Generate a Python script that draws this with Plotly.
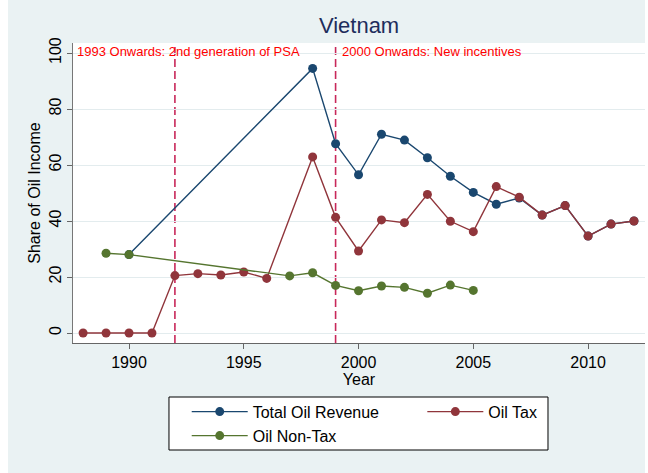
import plotly.graph_objects as go

# Oil revenue shares for Vietnam (percent of oil income)
years_total = [1990, 1998, 1999, 2000, 2001, 2002, 2003, 2004, 2005, 2006, 2007,
               2008, 2009, 2010, 2011, 2012]
total_oil_revenue = [28.0, 94.5, 67.6, 56.5, 71.0, 68.9, 62.6, 56.0, 50.2, 46.0, 48.2,
                     42.1, 45.5, 34.6, 38.9, 40.0]

years_tax = [1988, 1989, 1990, 1991, 1992, 1993, 1994, 1995, 1996, 1998, 1999, 2000,
             2001, 2002, 2003, 2004, 2005, 2006, 2007, 2008, 2009, 2010, 2011, 2012]
oil_tax = [0.0, 0.0, 0.0, 0.0, 20.5, 21.2, 20.7, 21.8, 19.5, 62.9, 41.3, 29.3,
           40.4, 39.4, 49.5, 39.9, 36.2, 52.3, 48.5, 42.1, 45.5, 34.6, 38.9, 40.0]

years_nontax = [1989, 1990, 1997, 1998, 1999, 2000, 2001, 2002, 2003, 2004, 2005]
oil_nontax = [28.5, 28.0, 20.4, 21.5, 17.0, 15.1, 16.8, 16.3, 14.2, 17.1, 15.2]

policy_years = [1992, 1999]
policy_labels = ["1993 Onwards: 2nd generation of PSA", "2000 Onwards: New incentives"]

x_ticks = [1990, 1995, 2000, 2005, 2010]
y_ticks = [0, 20, 40, 60, 80, 100]

FONT = "Liberation Sans, Arial, Helvetica, sans-serif"
BG = "#EAF2F3"
NAVY = "#1A476F"
MAROON = "#90353B"
GREEN = "#55752F"

fig = go.Figure()

series = [
    ("Total Oil Revenue", years_total, total_oil_revenue, NAVY, "legend"),
    ("Oil Tax", years_tax, oil_tax, MAROON, "legend2"),
    ("Oil Non-Tax", years_nontax, oil_nontax, GREEN, "legend3"),
]
for name, xs, ys, color, leg in series:
    fig.add_trace(go.Scatter(
        x=xs, y=ys, name=name, mode="lines+markers",
        line=dict(color=color, width=1.4),
        marker=dict(color=color, size=9, symbol="circle"),
        legend=leg,
    ))

# Policy change markers
for yr in policy_years:
    fig.add_shape(type="line", xref="x", yref="paper", x0=yr, x1=yr, y0=0, y1=1,
                  line=dict(color="#C8285A", width=1.6, dash="8px,4px"), layer="between")

# Page decoration: white side strips and the legend frame
fig.add_shape(type="rect", xref="paper", yref="paper", x0=-0.2, x1=-0.1136,
              y0=-0.5, y1=1.2, fillcolor="white", line=dict(width=0), layer="below")
fig.add_shape(type="rect", xref="paper", yref="paper", x0=1.0, x1=1.05,
              y0=-0.5, y1=1.2, fillcolor="white", line=dict(width=0), layer="below")
fig.add_shape(type="rect", xref="paper", yref="paper", x0=0.1678, x1=0.8304,
              y0=-0.3567, y1=-0.18, fillcolor="white",
              line=dict(color="black", width=1), layer="below")

fig.add_annotation(text=policy_labels[0], xref="paper", yref="paper", x=0, y=0.9717,
                   xanchor="left", yanchor="middle", xshift=3, showarrow=False,
                   borderpad=0, font=dict(family=FONT, size=13, color="#FF0000"))
fig.add_annotation(text=policy_labels[1], xref="x", yref="paper", x=policy_years[1],
                   y=0.9717, xanchor="left", yanchor="middle", xshift=5, showarrow=False,
                   borderpad=0, font=dict(family=FONT, size=13, color="#FF0000"))

legend_common = dict(orientation="v", bgcolor="rgba(0,0,0,0)", borderwidth=0,
                     itemwidth=56, xanchor="left", yanchor="middle",
                     font=dict(family=FONT, size=16, color="black"))

fig.update_layout(
    width=648, height=473,
    margin=dict(l=73, r=3, t=43, b=130, autoexpand=False),
    paper_bgcolor=BG, plot_bgcolor="white",
    font=dict(family=FONT, size=16, color="black"),
    title=dict(text="Vietnam", x=0.5541, xanchor="center", y=0.947, yanchor="middle",
               yref="container", xref="container",
               font=dict(family=FONT, size=22, color="#1E2D5C")),
    showlegend=True,
    legend=dict(x=0.1988, y=-0.229, **legend_common),
    legend2=dict(x=0.6107, y=-0.229, **legend_common),
    legend3=dict(x=0.1988, y=-0.309, **legend_common),
    xaxis=dict(range=[1987.56, 2012.48], tickvals=x_ticks, showgrid=False,
               zeroline=False, showline=True, linecolor="#666666", linewidth=1.2,
               ticks="outside", ticklen=5, tickcolor="#666666", tickwidth=1.2,
               tickfont=dict(family=FONT, size=16, color="black"),
               title=dict(text="Year", standoff=2, font=dict(family=FONT, size=16))),
    yaxis=dict(range=[-3.57, 103.57], tickvals=y_ticks, showgrid=True,
               gridcolor="#E3ECEE", gridwidth=1.4, zeroline=False, showline=True,
               linecolor="#777777", linewidth=1.2, ticks="outside", ticklen=5,
               tickcolor="#666666", tickwidth=1.2, tickangle=-90,
               tickfont=dict(family=FONT, size=16, color="black"),
               title=dict(text="Share of Oil Income", standoff=1,
                          font=dict(family=FONT, size=16))),
)

fig.write_html("out.html")
